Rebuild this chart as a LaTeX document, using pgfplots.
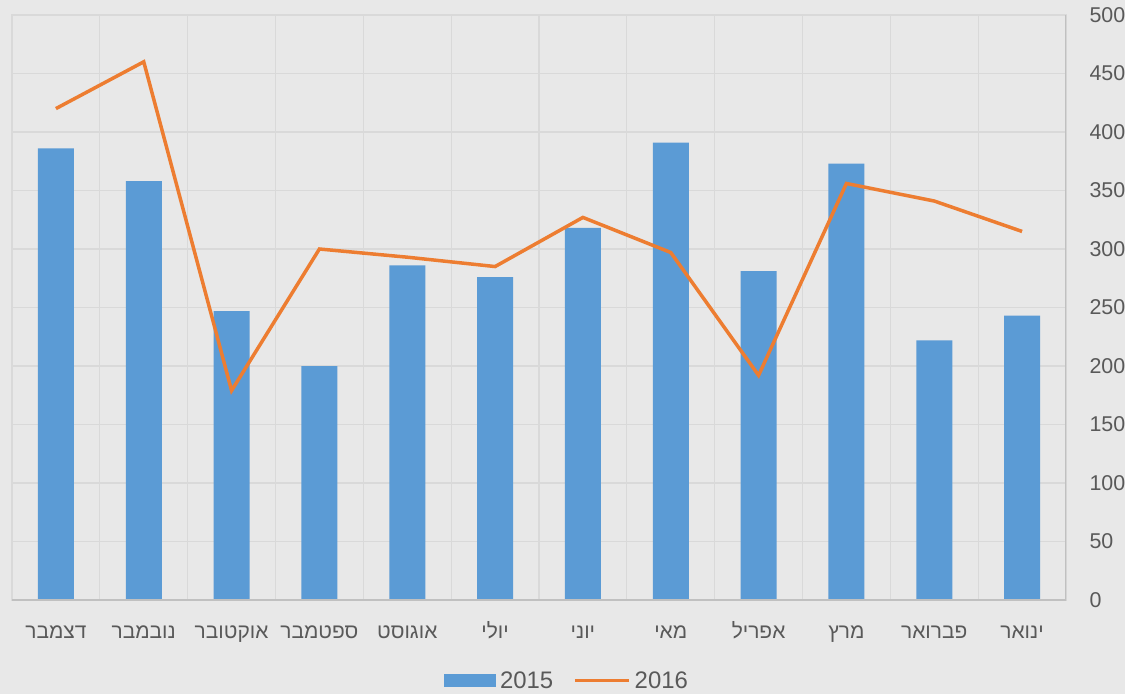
\documentclass[border=0pt]{standalone}
\usepackage{fontspec}
\setmainfont{Liberation Sans}
\newfontfamily\heb[Script=Hebrew]{Liberation Sans}
\TeXXeTstate=1
\usepackage{pgfplots}
\pgfplotsset{compat=1.18}
\definecolor{bg}{HTML}{E8E8E8}
\definecolor{gridc}{HTML}{D9D9D9}
\definecolor{axc}{HTML}{C0C0C0}
\definecolor{txt}{HTML}{595959}
\definecolor{barc}{HTML}{5B9BD5}
\definecolor{linec}{HTML}{ED7D31}
\newcommand{\hb}[1]{{\heb\beginR #1\endR}}
\begin{document}
\begin{tikzpicture}
\path[use as bounding box] (-12bp,-94bp) rectangle (1113bp,600bp);
\fill[bg] (-12bp,-94bp) rectangle (1113bp,600bp);
\begin{axis}[
  at={(0,0)}, anchor=south west,
  scale only axis, width=1054bp, height=585bp,
  xmin=-0.5, xmax=11.5, ymin=0, ymax=500,
  ytick={0,50,...,500},
  xtick={0,...,11},
  minor xtick={-0.5,0.5,1.5,2.5,3.5,4.5,5.5,6.5,7.5,8.5,9.5,10.5,11.5},
  xticklabels={\hb{דצמבר},\hb{נובמבר},\hb{אוקטובר},\hb{ספטמבר},\hb{אוגוסט},\hb{יולי},\hb{יוני},\hb{מאי},\hb{אפריל},\hb{מרץ},\hb{פברואר},\hb{ינואר}},
  yticklabel pos=right,
  major tick length=0pt, minor tick length=0pt,
  ymajorgrids, xminorgrids,
  grid style={gridc, line width=1.2bp},
  minor grid style={gridc, line width=1.2bp},
  axis line style={gridc, line width=1.2bp},
  tick label style={text=txt},
  /pgf/number format/assume math mode=true,
  yticklabel style={font=\fontsize{21.5}{24}\selectfont, anchor=west, xshift=20bp},
  xticklabel style={font=\fontsize{21}{24}\selectfont, anchor=base, yshift=-38bp},
  legend style={at={(0.5275,-0.138)}, anchor=center, draw=none, fill=none,
    font=\fontsize{24}{26}\selectfont, text=txt, legend columns=2,
    nodes={inner xsep=4bp},
    /tikz/every even column/.append style={column sep=16bp}},
  legend cell align=left,
]
\addplot[ybar, bar width=36bp, fill=barc, draw=none,
  legend image code/.code={\fill[barc] (0bp,-6.5bp) rectangle (52bp,6.5bp);}]
  coordinates {(0,386) (1,358) (2,247) (3,200) (4,286) (5,276) (6,318) (7,391) (8,281) (9,373) (10,222) (11,243)};
\addlegendentry{2015}
\addplot[linec, line width=3.5bp, mark=none,
  legend image code/.code={\draw[linec, line width=3.5bp] (0bp,0bp) -- (54bp,0bp);}]
  coordinates {(0,420) (1,460) (2,179) (3,300) (4,293) (5,285) (6,327) (7,297) (8,192) (9,356) (10,341) (11,315)};
\addlegendentry{2016}
\draw[axc, line width=1.2bp] (rel axis cs:0,0) -- (rel axis cs:1,0) -- (rel axis cs:1,1);
\end{axis}
\end{tikzpicture}
\end{document}
